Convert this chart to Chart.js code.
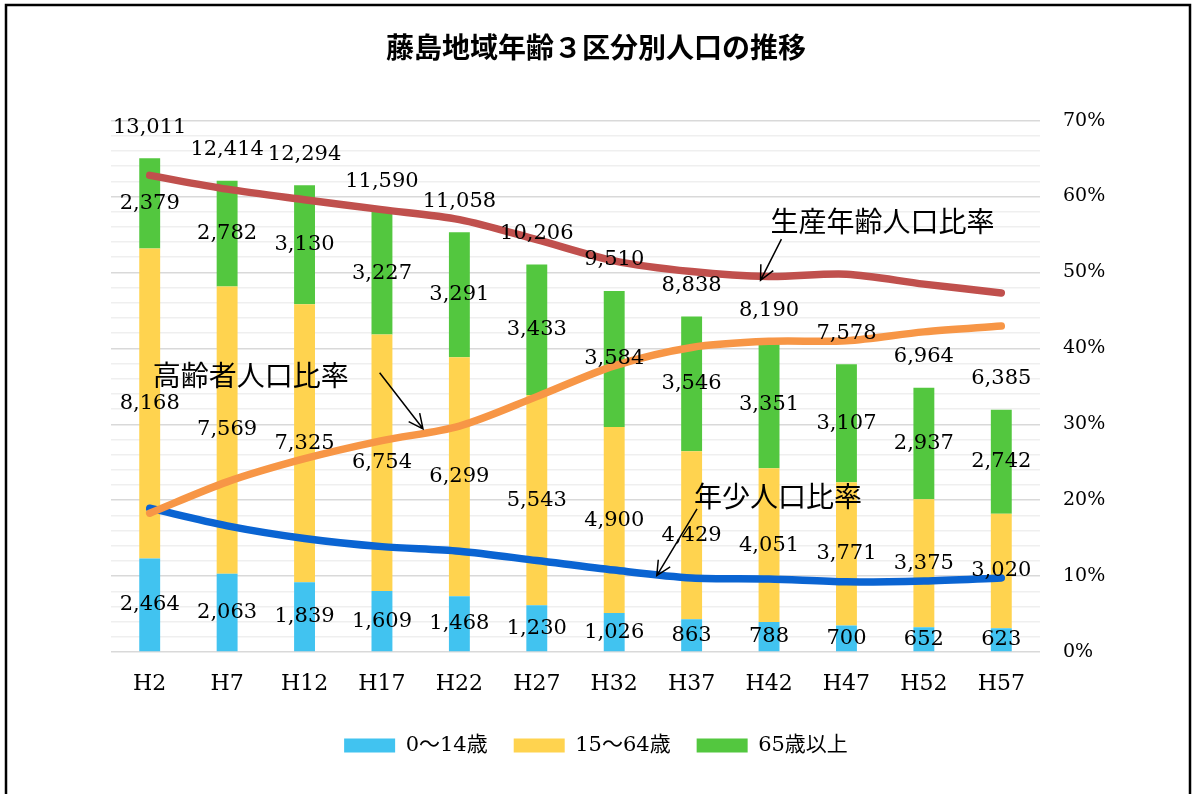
<!DOCTYPE html>
<html>
<head>
<meta charset="utf-8">
<script src="https://cdn.jsdelivr.net/npm/chart.js@4/dist/chart.umd.min.js"></script>
<style>
  html, body { margin: 0; padding: 0; background: #fff; overflow: hidden; }
  #wrap { width: 1192px; height: 794px; position: relative; }
</style>
</head>
<body>
<div id="wrap"><canvas id="grafica"></canvas></div>
<script>
// datos
var nendo = ["H2", "H7", "H12", "H17", "H22", "H27", "H32", "H37", "H42", "H47", "H52", "H57"];
var nensho = [2464, 2063, 1839, 1609, 1468, 1230, 1026, 863, 788, 700, 652, 623];
var seisan = [8168, 7569, 7325, 6754, 6299, 5543, 4900, 4429, 4051, 3771, 3375, 3020];
var koureisha = [2379, 2782, 3130, 3227, 3291, 3433, 3584, 3546, 3351, 3107, 2937, 2742];
var gokei = [13011, 12414, 12294, 11590, 11058, 10206, 9510, 8838, 8190, 7578, 6964, 6385];
var ritsuNensho = [0.1894, 0.1662, 0.1496, 0.1388, 0.1328, 0.1205, 0.1079, 0.0976, 0.0962, 0.0924, 0.0936, 0.0976];
var ritsuSeisan = [0.6278, 0.6097, 0.5958, 0.5827, 0.5696, 0.5431, 0.5152, 0.5011, 0.4946, 0.4976, 0.4846, 0.4730];
var ritsuKourei = [0.1828, 0.2241, 0.2546, 0.2784, 0.2976, 0.3364, 0.3769, 0.4012, 0.4092, 0.4100, 0.4217, 0.4294];
var pctTicks = [0, 0.1, 0.2, 0.3, 0.4, 0.5, 0.6, 0.7];

// notas: texto, posicion del texto y flecha (indice de categoria, porcentaje)
var notas = [
  { texto: "高齢者人口比率", x: 0.04, y: 0.3638, desde: [2.97, 0.3678], hasta: [3.53, 0.294] },
  { texto: "生産年齢人口比率", x: 8.02, y: 0.5669, desde: [8.16, 0.5438], hasta: [7.89, 0.4896] },
  { texto: "年少人口比率", x: 7.03, y: 0.2056, desde: [7.07, 0.1885], hasta: [6.55, 0.1006] }
];

var fuenteNum = "'DejaVu Serif', 'Noto Sans CJK JP', serif";
var fuenteJp = "'Noto Sans CJK JP', sans-serif";

function conComas(v) {
  return v.toLocaleString('en-US');
}

var marco = {
  id: 'marco',
  beforeDraw: function(chart) {
    var ctx = chart.ctx;
    ctx.save();
    ctx.fillStyle = '#fff';
    ctx.fillRect(0, 0, chart.width, chart.height);
    ctx.strokeStyle = '#000';
    ctx.lineWidth = 2.5;
    ctx.beginPath();
    ctx.moveTo(6, chart.height + 5);
    ctx.lineTo(6, 5);
    ctx.lineTo(chart.width - 2, 5);
    ctx.lineTo(chart.width - 2, chart.height + 5);
    ctx.stroke();
    ctx.restore();
  }
};

var etiquetas = {
  id: 'etiquetas',
  afterDatasetsDraw: function(chart) {
    var ctx = chart.ctx;
    var xs = chart.scales.x;
    var ys = chart.scales.y1;
    ctx.save();
    ctx.fillStyle = '#000';
    ctx.textAlign = 'center';
    ctx.textBaseline = 'middle';
    ctx.font = '21px ' + fuenteNum;
    for (var d = 0; d < 3; d++) {
      var meta = chart.getDatasetMeta(d);
      var valores = chart.data.datasets[d].data;
      meta.data.forEach(function(el, i) {
        ctx.fillText(conComas(valores[i]), el.x, (el.y + el.base) / 2);
      });
    }
    var arriba = chart.getDatasetMeta(2);
    arriba.data.forEach(function(el, i) {
      ctx.fillText(conComas(gokei[i]), el.x, el.y - 31);
    });

    // notas con flechas
    ctx.textAlign = 'left';
    ctx.font = '28px ' + fuenteJp;
    ctx.strokeStyle = '#000';
    ctx.lineWidth = 1.5;
    notas.forEach(function(n) {
      ctx.fillText(n.texto, xs.getPixelForValue(n.x), ys.getPixelForValue(n.y));
      var x0 = xs.getPixelForValue(n.desde[0]), y0 = ys.getPixelForValue(n.desde[1]);
      var x1 = xs.getPixelForValue(n.hasta[0]), y1 = ys.getPixelForValue(n.hasta[1]);
      var ang = Math.atan2(y1 - y0, x1 - x0);
      var largo = 16;
      ctx.beginPath();
      ctx.moveTo(x0, y0);
      ctx.lineTo(x1, y1);
      ctx.moveTo(x1 - largo * Math.cos(ang - 0.45), y1 - largo * Math.sin(ang - 0.45));
      ctx.lineTo(x1, y1);
      ctx.lineTo(x1 - largo * Math.cos(ang + 0.45), y1 - largo * Math.sin(ang + 0.45));
      ctx.stroke();
    });
    ctx.restore();
  }
};

function lineaRatio(datos, color, orden) {
  return {
    type: 'line',
    data: datos,
    yAxisID: 'y1',
    borderColor: color,
    backgroundColor: color,
    borderWidth: 7.5,
    pointRadius: 0,
    tension: 0.3,
    borderCapStyle: 'round',
    borderJoinStyle: 'round',
    order: orden
  };
}

var ctx = document.getElementById("grafica").getContext("2d");
var grafico = new Chart(ctx, {
  type: 'bar',
  data: {
    labels: nendo,
    datasets: [
      { label: '0～14歳', data: nensho, backgroundColor: '#41C3F0', stack: 'p', order: 2 },
      { label: '15～64歳', data: seisan, backgroundColor: '#FFD34F', stack: 'p', order: 2 },
      { label: '65歳以上', data: koureisha, backgroundColor: '#53C73F', stack: 'p', order: 2 },
      lineaRatio(ritsuNensho, '#0A64D2', 1),
      lineaRatio(ritsuSeisan, '#C0504D', 0),
      lineaRatio(ritsuKourei, '#F79646', 0)
    ]
  },
  options: {
    responsive: true,
    maintainAspectRatio: false,
    animation: false,
    devicePixelRatio: 1,
    barPercentage: 0.27,
    categoryPercentage: 1,
    layout: { padding: { left: 0, right: 0, top: 0, bottom: 28 } },
    plugins: {
      tooltip: { enabled: false },
      title: {
        display: true,
        text: '藤島地域年齢３区分別人口の推移',
        color: '#000',
        font: { family: fuenteJp, size: 28, weight: 'bold' },
        padding: { top: 31, bottom: 56 }
      },
      legend: {
        position: 'bottom',
        labels: {
          filter: function(item) { return item.datasetIndex < 3; },
          boxWidth: 51,
          boxHeight: 14,
          padding: 26,
          color: '#000',
          font: { family: fuenteNum, size: 21 }
        }
      }
    },
    scales: {
      x: {
        stacked: true,
        grid: { display: false },
        border: { display: false },
        ticks: { color: '#000', font: { family: fuenteNum, size: 22 }, padding: 11 },
        afterFit: function(axis) { axis.height = 57; }
      },
      y: {
        stacked: true,
        min: 0,
        max: 14000,
        border: { display: false },
        ticks: { display: false, stepSize: 400 },
        grid: {
          drawTicks: false,
          color: function(c) { return c.tick.value % 2000 === 0 ? '#d9d9d9' : '#efefef'; },
          lineWidth: 1.5
        },
        afterFit: function(axis) { axis.width = 111; }
      },
      y1: {
        position: 'right',
        min: 0,
        max: 0.7,
        border: { display: false },
        grid: { display: false, drawTicks: false },
        afterBuildTicks: function(axis) {
          axis.ticks = pctTicks.map(function(v) { return { value: v }; });
        },
        ticks: {
          padding: 23,
          color: '#000',
          font: { family: fuenteNum, size: 19 },
          callback: function(v) { return Math.round(v * 100) + '%'; }
        },
        afterFit: function(axis) { axis.width = 152; }
      }
    }
  },
  plugins: [marco, etiquetas]
});
</script>
</body>
</html>
